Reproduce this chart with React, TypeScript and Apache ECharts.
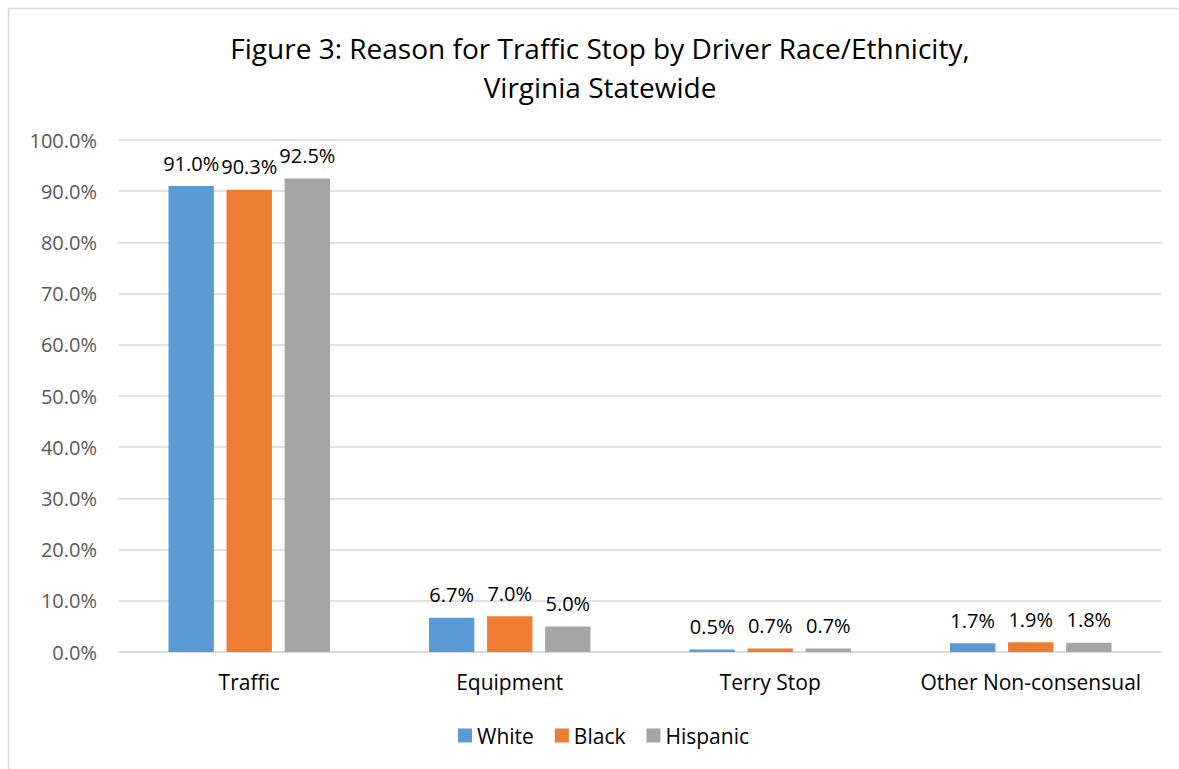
import React, { useEffect, useRef } from "react";
import * as echarts from "echarts";

const categories = ["Traffic", "Equipment", "Terry Stop", "Other Non-consensual"];
const white = [91.0, 6.7, 0.5, 1.7];
const black = [90.3, 7.0, 0.7, 1.9];
const hispanic = [92.5, 5.0, 0.7, 1.8];
const seriesNames = ["White", "Black", "Hispanic"];
const colors = ["#5b9bd5", "#ed7d31", "#a5a5a5"];
const titleText = "Figure 3: Reason for Traffic Stop by Driver Race/Ethnicity,\nVirginia Statewide";

const FONT = "'Open Sans', 'Noto Sans', sans-serif";

export default function App() {
  const ref = useRef<HTMLDivElement>(null);
  useEffect(() => {
    if (!ref.current) return;
    const chart = echarts.init(ref.current, undefined, { renderer: "svg" });
    const data = [white, black, hispanic];
    chart.setOption({
      animation: false,
      backgroundColor: "#ffffff",
      textStyle: { fontFamily: FONT },
      title: {
        text: titleText,
        left: 600,
        textAlign: "center",
        top: 28,
        padding: 0,
        textStyle: {
          fontFamily: FONT,
          fontSize: 28,
          fontWeight: "normal",
          color: "#000000",
          lineHeight: 39,
        },
      },
      graphic: [
        {
          type: "rect",
          shape: { x: 8.5, y: 8.5, width: 1300, height: 900 },
          style: { fill: "none", stroke: "#d9d9d9", lineWidth: 1.5 },
          silent: true,
        },
      ],
      legend: {
        bottom: 18,
        left: 453,
        itemWidth: 14,
        itemHeight: 14,
        itemGap: 21,
        icon: "rect",
        textStyle: { fontFamily: FONT, fontSize: 21, color: "#000000" },
        data: seriesNames,
      },
      grid: { left: 119, right: 18, top: 140, bottom: 117, containLabel: false },
      xAxis: {
        type: "category",
        data: categories,
        axisLine: { lineStyle: { color: "#d9d9d9", width: 1.5 } },
        axisTick: { show: false },
        axisLabel: { fontFamily: FONT, fontSize: 21, color: "#000000", margin: 19, interval: 0 },
      },
      yAxis: {
        type: "value",
        min: 0,
        max: 100,
        interval: 10,
        axisLine: { show: false },
        axisTick: { show: false },
        splitLine: { lineStyle: { color: "#d9d9d9", width: 1.5 } },
        axisLabel: {
          fontFamily: FONT,
          fontSize: 20,
          color: "#595959",
          margin: 22,
          formatter: (v: number) => v.toFixed(1) + "%",
        },
      },
      series: seriesNames.map((name, i) => ({
        name,
        type: "bar",
        data: data[i],
        barGap: "28%",
        barCategoryGap: "38%",
        itemStyle: { color: colors[i] },
        label: {
          show: true,
          position: "top",
          distance: 13,
          fontFamily: FONT,
          fontSize: 20,
          color: "#000000",
          formatter: (p: any) => Number(p.value).toFixed(1) + "%",
        },
      })),
    });
    return () => chart.dispose();
  }, []);
  return (
    <div
      ref={ref}
      style={{ position: "absolute", left: 0, top: 0, width: 1179, height: 769 }}
    />
  );
}
